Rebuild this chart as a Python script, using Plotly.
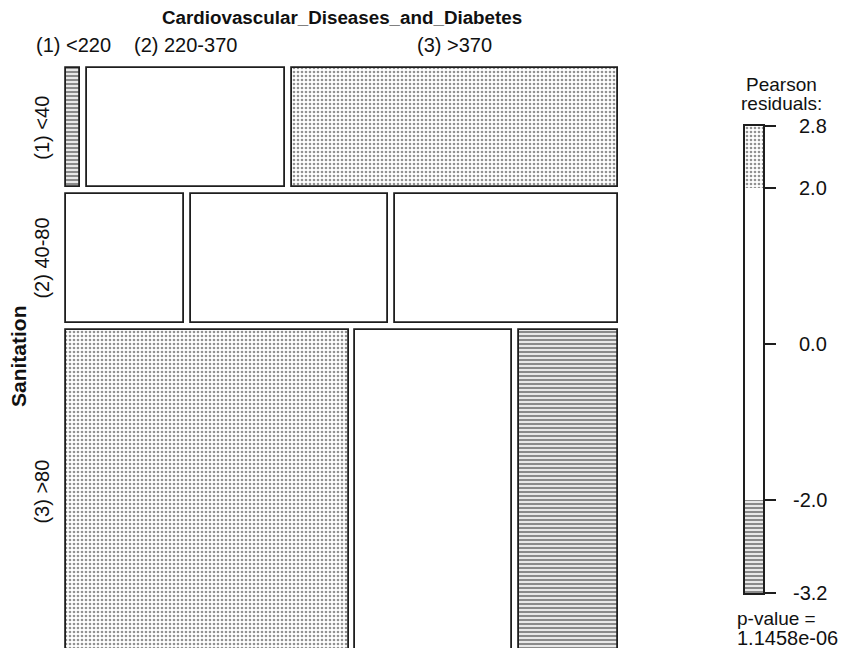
import numpy as np
import plotly.graph_objects as go

# ---------------- data ----------------
row_var = "Sanitation"
col_var = "Cardiovascular_Diseases_and_Diabetes"
row_labels = ["(1) <40", "(2) 40-80", "(3) >80"]
col_labels = ["(1) <220", "(2) 220-370", "(3) >370"]
counts_r1 = [1, 14, 23]
counts_r2 = [9, 15, 17]
counts_r3 = [54, 30, 19]
legend_breaks = [-3.2, -2.0, 2.0, 2.8]
legend_ticks = [2.8, 2.0, 0.0, -2.0, -3.2]
p_value_text = "1.1458e-06"

counts = np.array([counts_r1, counts_r2, counts_r3], dtype=float)

# Pearson residuals
tot = counts.sum()
rs = counts.sum(axis=1)
cs = counts.sum(axis=0)
expected = np.outer(rs, cs) / tot
resid = (counts - expected) / np.sqrt(expected)

# ---------------- styling / geometry ----------------
W_PX, H_PX = 843, 648
FONT = "Liberation Sans, Arial, sans-serif"
LINE = "#1e1e1e"
x_left_px, x_right_px = 66, 618
y_top_px = 68
px_per_count = 3.14
gap_x = 6.5            # x units = pixels
gap_y = 2.2            # y units = counts
pad = 2.0

W = x_right_px - x_left_px
avail = W - 2 * gap_x

DOTS = dict(shape=".", fgcolor="#262626", bgcolor="white", size=4, solidity=0.35)
HLINES = dict(shape="-", fgcolor="#161616", bgcolor="white", size=4, solidity=0.6)
PLAIN = dict(shape="")

fig = go.Figure()


def pattern_for(r):
    if r > 2:
        return DOTS
    if r < -2:
        return HLINES
    return PLAIN


y0 = 0.0
row_centers = []
tile_centers_first_row = []
for i in range(3):
    h = rs[i]
    row_centers.append(y0 + h / 2)
    x0 = 0.0
    for j in range(3):
        w = avail * counts[i, j] / rs[i]
        if i == 0:
            tile_centers_first_row.append(x0 + w / 2)
        fig.add_trace(go.Bar(
            x=[x0 + w / 2], y=[h], base=[y0], width=[w],
            marker=dict(color="white", line=dict(color=LINE, width=1.8),
                        pattern=pattern_for(resid[i, j])),
            showlegend=False, hoverinfo="skip", xaxis="x", yaxis="y"))
        x0 += w + gap_x
    y0 += h + gap_y

# legend bar
seg_styles = [HLINES, PLAIN, DOTS]
for k in range(3):
    lo, hi = legend_breaks[k], legend_breaks[k + 1]
    fig.add_trace(go.Bar(
        x=[0], y=[hi - lo], base=[lo], width=[1.0],
        marker=dict(color="white", line=dict(width=0), pattern=seg_styles[k]),
        showlegend=False, hoverinfo="skip", xaxis="x2", yaxis="y2"))

# axes
x_dom = [(x_left_px - pad) / W_PX, (x_right_px + pad) / W_PX]
y_dom_top = 1 - (y_top_px - pad) / H_PX
dom_px = y_dom_top * H_PX
y_range_top = -pad / px_per_count
y_range_bottom = y_range_top + dom_px / px_per_count

leg_top_px, leg_bot_px = 126, 593
leg_l_px, leg_r_px = 745, 763

fig.update_layout(
    width=W_PX, height=H_PX,
    margin=dict(l=0, r=0, t=0, b=0),
    paper_bgcolor="white", plot_bgcolor="white",
    barmode="overlay", bargap=0,
    font=dict(family=FONT, color="#111111", size=19),
    xaxis=dict(domain=x_dom, range=[-pad, W + pad], visible=False, fixedrange=True),
    yaxis=dict(domain=[0, y_dom_top], range=[y_range_bottom, y_range_top],
               visible=False, fixedrange=True),
    xaxis2=dict(domain=[leg_l_px / W_PX, leg_r_px / W_PX], range=[-0.5, 0.5],
                anchor="y2", showline=True, mirror=True, linecolor=LINE, linewidth=1.5,
                showticklabels=False, ticks="", showgrid=False, zeroline=False,
                fixedrange=True),
    yaxis2=dict(domain=[1 - leg_bot_px / H_PX, 1 - leg_top_px / H_PX],
                range=[legend_breaks[0], legend_breaks[-1]], anchor="x2", side="right",
                showline=True, mirror=True, linecolor=LINE, linewidth=1.5,
                ticks="outside", ticklen=11, tickwidth=1.5, tickcolor=LINE,
                tickvals=legend_ticks, showticklabels=False,
                showgrid=False, zeroline=False, fixedrange=True),
)

ann = []
# title
ann.append(dict(text="<b>" + col_var + "</b>", x=W / 2, xref="x", y=1 - 17 / H_PX,
                yref="paper", showarrow=False, font=dict(size=18.8), xanchor="center",
                yanchor="middle"))
# column labels
for j, lab in enumerate(col_labels):
    ann.append(dict(text=lab, x=tile_centers_first_row[j], xref="x", y=1 - 45 / H_PX,
                    yref="paper", showarrow=False, xanchor="center", yanchor="middle",
                    font=dict(size=20)))
# row labels
for i, lab in enumerate(row_labels):
    ann.append(dict(text=lab, x=42 / W_PX, xref="paper", y=row_centers[i], yref="y",
                    showarrow=False, textangle=-90, xanchor="center", yanchor="middle",
                    font=dict(size=20)))
ann.append(dict(text="<b>" + row_var + "</b>", x=18 / W_PX, xref="paper",
                y=1 - 356 / H_PX, yref="paper", showarrow=False, textangle=-90,
                xanchor="center", yanchor="middle", font=dict(size=21)))
# legend title
ann.append(dict(text="Pearson", x=781 / W_PX, xref="paper", y=1 - 84 / H_PX, yref="paper",
                showarrow=False, xanchor="center", yanchor="middle", font=dict(size=19)))
ann.append(dict(text="residuals:", x=781 / W_PX, xref="paper", y=1 - 103 / H_PX,
                yref="paper", showarrow=False, xanchor="center", yanchor="middle",
                font=dict(size=19)))
# legend tick labels
for t in legend_ticks:
    ann.append(dict(text=f"{t:.1f}", x=829 / W_PX, xref="paper", y=t, yref="y2",
                    showarrow=False, xanchor="right", yanchor="middle", font=dict(size=20)))
# p-value
ann.append(dict(text="p-value =", x=735 / W_PX, xref="paper", y=1 - 618 / H_PX,
                yref="paper", showarrow=False, xanchor="left", yanchor="middle",
                font=dict(size=19)))
ann.append(dict(text=p_value_text, x=735 / W_PX, xref="paper", y=1 - 638 / H_PX,
                yref="paper", showarrow=False, xanchor="left", yanchor="middle",
                font=dict(size=20)))
fig.update_layout(annotations=ann)

fig.write_html("out.html", config={"displayModeBar": False},
               post_script="document.body.style.margin='0';document.body.style.padding='0';")
